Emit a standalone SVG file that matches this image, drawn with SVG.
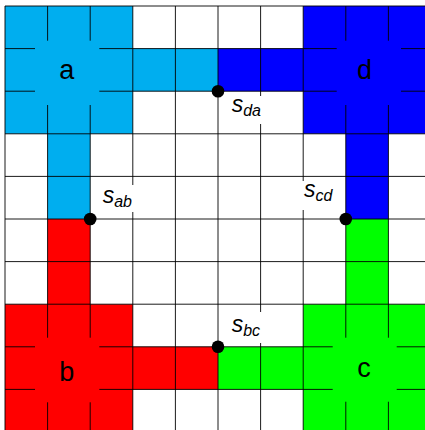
<svg xmlns="http://www.w3.org/2000/svg" width="425" height="430" viewBox="0 0 425 430">
<style>
.grid line{stroke:#000;stroke-width:0.9}
.lbl{font-family:"Liberation Sans",Arial,sans-serif;font-size:27px;fill:#000;text-anchor:middle}
.sl{font-family:"Liberation Sans",Arial,sans-serif;font-style:italic;font-size:23px;fill:#000}
.sub{font-size:16px}
.box{fill:#fff}
.dot{fill:#000}
</style>
<rect width="425" height="430" fill="#fff"/>
<g id="node-a-region"><polygon fill="#00AEEF" points="5,6 132.8,6 132.8,48.6 218,48.6 218,91.2 132.8,91.2 132.8,133.8 90.2,133.8 90.2,219 47.6,219 47.6,133.8 5,133.8"/></g>
<g id="node-d-region"><polygon fill="#0000FF" points="303.2,6 425,6 425,133.8 388.4,133.8 388.4,219 345.8,219 345.8,133.8 303.2,133.8 303.2,91.2 218,91.2 218,48.6 303.2,48.6"/></g>
<g id="node-b-region"><polygon fill="#FF0000" points="47.6,219 90.2,219 90.2,304.2 132.8,304.2 132.8,346.8 218,346.8 218,389.4 132.8,389.4 132.8,430 5,430 5,304.2 47.6,304.2"/></g>
<g id="node-c-region"><polygon fill="#00FF00" points="345.8,219 388.4,219 388.4,304.2 425,304.2 425,430 303.2,430 303.2,389.4 218,389.4 218,346.8 303.2,346.8 303.2,304.2 345.8,304.2"/></g>
<g class="grid">
<line x1="5" y1="6" x2="5" y2="430"/>
<line x1="47.6" y1="6" x2="47.6" y2="430"/>
<line x1="90.2" y1="6" x2="90.2" y2="430"/>
<line x1="132.8" y1="6" x2="132.8" y2="430"/>
<line x1="175.4" y1="6" x2="175.4" y2="430"/>
<line x1="218" y1="6" x2="218" y2="430"/>
<line x1="260.6" y1="6" x2="260.6" y2="430"/>
<line x1="303.2" y1="6" x2="303.2" y2="430"/>
<line x1="345.8" y1="6" x2="345.8" y2="430"/>
<line x1="388.4" y1="6" x2="388.4" y2="430"/>
<line x1="5" y1="6" x2="425" y2="6"/>
<line x1="5" y1="48.6" x2="425" y2="48.6"/>
<line x1="5" y1="91.2" x2="425" y2="91.2"/>
<line x1="5" y1="133.8" x2="425" y2="133.8"/>
<line x1="5" y1="176.4" x2="425" y2="176.4"/>
<line x1="5" y1="219" x2="425" y2="219"/>
<line x1="5" y1="261.6" x2="425" y2="261.6"/>
<line x1="5" y1="304.2" x2="425" y2="304.2"/>
<line x1="5" y1="346.8" x2="425" y2="346.8"/>
<line x1="5" y1="389.4" x2="425" y2="389.4"/>
</g>
<g id="node-a"><rect x="35" y="40.7" width="64.3" height="64.3" fill="#00AEEF"/><text class="lbl" x="66.7" y="79">a</text></g>
<g id="node-d"><rect x="336.7" y="40.7" width="64.3" height="64.3" fill="#0000FF"/><text class="lbl" x="364.5" y="79">d</text></g>
<g id="node-b"><rect x="35" y="337.7" width="64.3" height="64.6" fill="#FF0000"/><text class="lbl" x="66.7" y="380.7">b</text></g>
<g id="node-c"><rect x="332.7" y="337.7" width="64" height="64" fill="#00FF00"/><text class="lbl" x="364" y="377">c</text></g>
<g id="connectors">
<g id="s-ab"><rect class="box" x="98" y="185" width="40" height="27"/><circle class="dot" cx="90.2" cy="219" r="6.3"/><text class="sl" x="102.7" y="203">s<tspan class="sub" dy="4">ab</tspan></text></g>
<g id="s-da"><rect class="box" x="227" y="96" width="39" height="28"/><circle class="dot" cx="218" cy="91.2" r="6.3"/><text class="sl" x="231.7" y="112.3">s<tspan class="sub" dy="4">da</tspan></text></g>
<g id="s-cd"><rect class="box" x="299" y="181" width="39" height="29"/><circle class="dot" cx="345.8" cy="219" r="6.3"/><text class="sl" x="304" y="197.3">s<tspan class="sub" dy="4">cd</tspan></text></g>
<g id="s-bc"><rect class="box" x="227" y="312" width="39" height="31"/><circle class="dot" cx="218" cy="346.8" r="6.3"/><text class="sl" x="231.7" y="332.3">s<tspan class="sub" dy="4">bc</tspan></text></g>
</g>
</svg>
